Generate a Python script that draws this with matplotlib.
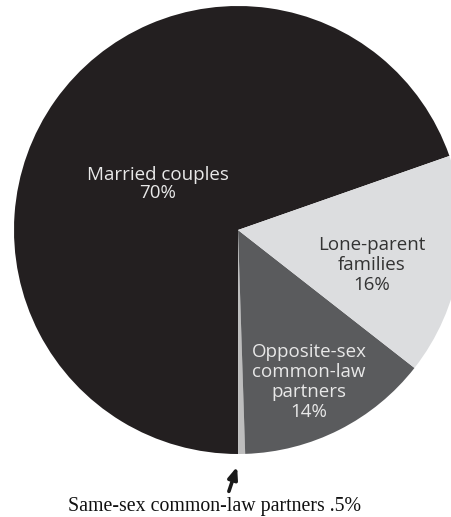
import matplotlib
matplotlib.use("Agg")
import matplotlib.pyplot as plt

categories = ["Married couples", "Same-sex common-law partners",
              "Opposite-sex common-law partners", "Lone-parent families"]
values = [70, 0.5, 14, 16]
pie_labels = ["Married couples\n70%", "", "Opposite-sex\ncommon-law\npartners\n14%",
              "Lone-parent\nfamilies\n16%"]
bottom_label = "Same-sex common-law partners .5%"

colors = ["#231f20", "#bdbdbd", "#5a5b5d", "#dcdddf"]
text_colors = ["#e8e8e8", "#e8e8e8", "#e8e8e8", "#333333"]

W, H = 451, 517
fig = plt.figure(figsize=(W / 100, H / 100), dpi=100)
ax = fig.add_axes([0, 0, 1, 1])

cx, cy, r = 238, H - 230, 224
wedges, _ = ax.pie(values, colors=colors, startangle=19.3, counterclock=True,
                   center=(cx, cy), radius=r, normalize=True,
                   wedgeprops=dict(linewidth=0))
ax.set_xlim(0, W)
ax.set_ylim(0, H)
ax.set_aspect("equal")
ax.axis("off")

label_pos = [(158, H - 184), None, (309, H - 382), (372, H - 265)]
spacings = [1.0, 1.0, 1.12, 1.12]
for lab, pos, tc, ls in zip(pie_labels, label_pos, text_colors, spacings):
    if pos is None:
        continue
    ax.text(pos[0], pos[1], lab, ha="center", va="center", color=tc,
            fontsize=13.5, family="Open Sans", linespacing=ls)

ax.annotate("", xy=(238, H - 464), xytext=(228, H - 494),
            arrowprops=dict(arrowstyle="-|>,head_length=0.7,head_width=0.28",
                            color="#1a1a1a", lw=2.6))
ax.text(215, H - 506, bottom_label, ha="center", va="center", color="#111111",
        fontsize=14.3, family="Liberation Serif")

fig.savefig("out.png", dpi=100)
